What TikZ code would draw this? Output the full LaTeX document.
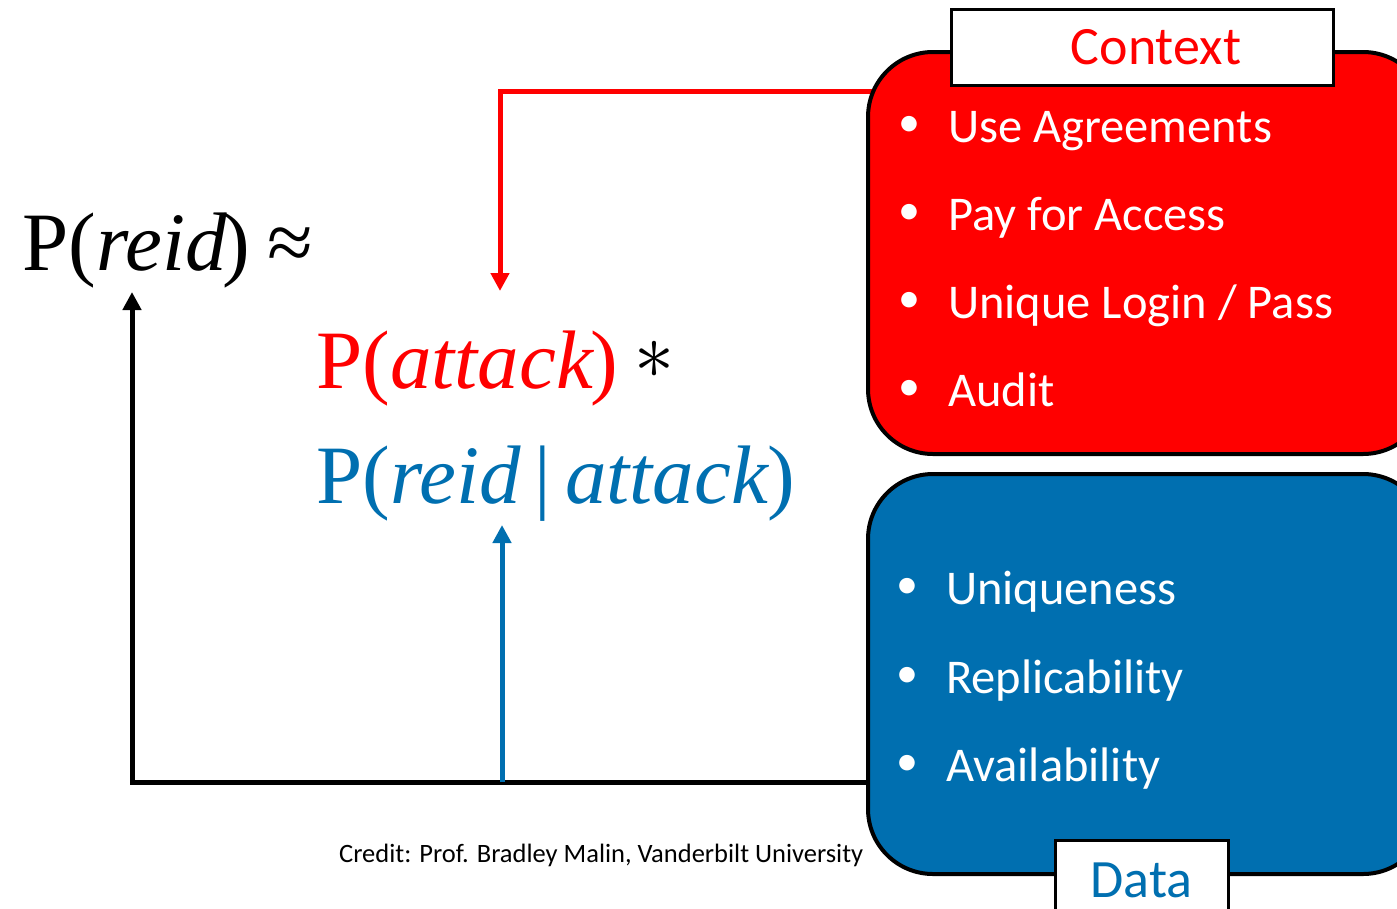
\documentclass[tikz,border=0pt]{standalone}
\usepackage{fontspec}
\usepackage{graphicx}
\setmainfont{Liberation Serif}
\newfontfamily\carlito{Carlito}
\usetikzlibrary{arrows.meta}
\definecolor{ctxred}{RGB}{255,0,0}
\definecolor{datablue}{RGB}{0,111,176}

\begin{document}
\begin{tikzpicture}[x=1pt,y=-1pt,
  conn/.style={line width=5pt,-{Triangle[width=18pt,length=18pt]}},
  panel/.style={draw=black,line width=4pt,rounded corners=65pt,
    minimum width=560pt,anchor=north west,inner sep=0pt},
  tag/.style={draw=black,fill=white,line width=3pt,inner sep=0pt,
    font=\carlito\fontsize{54}{54}\selectfont},
  item/.style={anchor=base west,inner sep=0pt,text=white,
    font=\carlito\fontsize{48.5}{48.5}\selectfont},
  dot/.style={inner sep=0pt,text=white,font=\carlito\fontsize{44}{44}\selectfont},
  formula/.style={anchor=base west,inner sep=0pt,font=\fontsize{83}{83}\selectfont}]

\useasboundingbox (0,0) rectangle (1397,908);
\clip (0,0) rectangle (1397,908);

% formulas
\node[formula] (reid) at (22,270) {P(\textit{reid}\kern-4pt)\hspace{-4pt} ≈};
\node[formula,text=ctxred] (att) at (316,388) {P(\textit{attack}\kern-4pt)};
\node[inner sep=0pt] (star) at (654,360) {\scalebox{8}{$\ast$}};
\node[formula,text=datablue] (cond) at (316,503) {P(\textit{reid}\,|\,\textit{attack}\kern-2pt)};

% connector end points
\coordinate (ctxin) at (874,91);
\coordinate (atttip) at (500,291);
\coordinate (datain) at (870,782);
\coordinate (reidtip) at (132,292);
\coordinate (datajoin) at (502,782);
\coordinate (condtip) at (502,525);

% connectors
\draw[conn,draw=ctxred] (ctxin) -| (atttip);
\draw[conn,draw=black] (datain) -| (reidtip);
\draw[conn,draw=datablue] (datajoin) -- (condtip);

% panels
\node[panel,fill=ctxred,minimum height=402pt] (ctx) at (866,50) {};
\node[panel,fill=datablue,minimum height=400pt] (data) at (866,472) {};

% panel tags
\node[tag,text=ctxred,minimum width=382pt,minimum height=76pt] (ctxtag) at (1142,47) {\hspace*{28pt}Context};
\node[tag,text=datablue,minimum width=173pt,minimum height=80pt] (datatag) at (1141.5,880) {Data};

% context items
\foreach \y/\t [count=\i] in {126/{Use Agreements},214/{Pay for Access},302/{Unique Login / Pass},390/{Audit}}{
  \node[dot] (cb\i) at (909,\y) {•};
  \node[item] (ci\i) at (948,\y+16) {\t};
}
% data items
\foreach \y/\t [count=\i] in {588/{Uniqueness},677/{Replicability},765/{Availability}}{
  \node[dot] (db\i) at (907,\y) {•};
  \node[item] (di\i) at (946,\y+16) {\t};
}

\node[anchor=base west,inner sep=0pt,font=\carlito\fontsize{26.5}{26.5}\selectfont] (credit)
  at (339,862) {Credit: Prof. Bradley Malin, Vanderbilt University};
\end{tikzpicture}
\end{document}
